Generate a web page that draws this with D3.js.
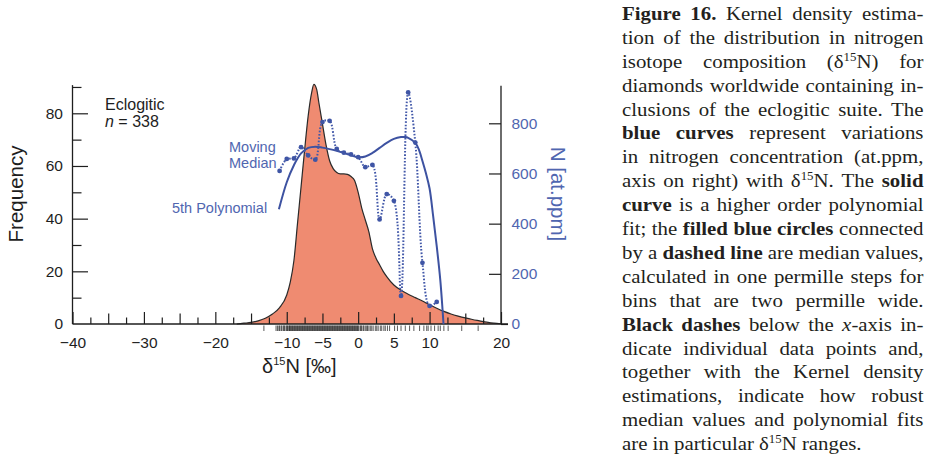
<!DOCTYPE html>
<meta charset="utf-8">
<style>
body { margin: 0; background: #fff; }
svg text { font-family: "Liberation Sans", Arial, sans-serif; }
.caption text { font-family: "Liberation Serif", "Times New Roman", serif; font-size: 19.5px; fill: #231f20; }
</style>
<body>
<script src="https://cdn.jsdelivr.net/npm/d3@7"></script>
<script>
// kernel density of d15N (left axis, frequency)
var densX = [-17, -16, -15, -14, -13, -12, -11, -10, -9.5, -9, -8.5, -8, -7.5, -7, -6.5, -6.2, -5.8, -5.5, -5, -4.5, -4, -3.5, -3, -2.5, -2, -1.5, -1, -0.5, 0, 0.5, 1, 1.5, 2, 2.5, 3, 3.5, 4, 5, 6, 7, 8, 9, 10, 11, 12, 13, 14, 15, 16, 17, 18, 19, 20];
var densY = [0, 0.3, 0.6, 1.2, 2.2, 3.8, 6.2, 11, 16, 24, 38, 52, 66, 79, 88, 91, 89, 84, 76, 68, 62, 59, 57.5, 57, 57, 56.8, 56, 54.5, 50, 44, 39.5, 35, 28.5, 25, 22.5, 20, 18, 14.8, 12.8, 11.3, 10, 8.7, 7.3, 6, 4.8, 3.8, 3, 2.3, 1.7, 1.2, 0.7, 0.3, 0.1];

// moving median of N (right axis, at.ppm)
var medX = [-11, -10, -9, -8, -7, -6, -5, -4, -3, -2, -1, 0, 1, 2, 3, 4, 5, 6, 7, 8, 9, 10, 11];
var medN = [610, 658, 660, 705, 672, 655, 805, 810, 698, 683, 676, 665, 625, 634, 417, 518, 491, 112, 923, 723, 244, 72, 88];

// 5th order polynomial fit
var polyX = [-11.1, -10, -9, -8, -7, -6, -5, -4, -3, -2, -1, 0, 1, 2, 3, 4, 5, 6, 6.6, 7, 8, 8.5, 9, 9.5, 10, 10.5, 11, 11.5, 11.95];
var polyN = [457, 565, 633, 680, 702, 707, 703, 697, 690, 682, 672, 665, 668, 682, 702, 722, 738, 745, 745, 742, 722, 695, 650, 600, 540, 430, 310, 175, 0];

// individual data points (rug below the x axis)
var rugX = [-13.2, -11.5, -11.3, -11.1, -11.0, -10.8, -10.7, -10.5, -10.4, -10.3, -10.1, -10.0, -9.9, -9.8, -9.65, -9.6, -9.5, -9.4, -9.3, -9.2, -9.1, -9.0, -8.9, -8.8, -8.7, -8.6, -8.5, -8.4, -8.3, -8.2, -8.1, -8.0, -7.9, -7.8, -7.7, -7.6, -7.5, -7.4, -7.3, -7.2, -7.1, -7.0, -6.9, -6.8, -6.7, -6.6, -6.5, -6.4, -6.3, -6.2, -6.1, -6.0, -5.9, -5.8, -5.7, -5.6, -5.5, -5.4, -5.3, -5.2, -5.1, -5.0, -4.9, -4.8, -4.7, -4.6, -4.5, -4.4, -4.3, -4.2, -4.1, -4.0, -3.9, -3.8, -3.7, -3.6, -3.5, -3.4, -3.3, -3.2, -3.1, -3.0, -2.9, -2.8, -2.7, -2.6, -2.5, -2.4, -2.3, -2.2, -2.1, -2.0, -1.9, -1.8, -1.7, -1.6, -1.5, -1.4, -1.3, -1.2, -1.1, -1.0, -0.9, -0.8, -0.7, -0.6, -0.5, -0.4, -0.3, -0.2, -0.1, 0.0, 0.1, 0.3, 0.4, 0.5, 0.7, 0.8, 1.0, 1.2, 1.3, 1.5, 1.7, 1.9, 2.1, 2.4, 2.6, 2.8, 3.1, 3.3, 3.6, 3.8, 4.1, 4.4, 5.1, 5.5, 6.0, 6.6, 7.2, 7.8, 8.6, 9.2, 9.6, 9.8, 10.2, 10.7, 11.2, 11.5, 12.0, 12.6, 14.5, 16.8];

var xLabels = [-40, -30, -20, -10, -5, 0, 5, 10, 20];
var yLeftLabels = [0, 20, 40, 60, 80];
var yRightLabels = [0, 200, 400, 600, 800];

// caption: *bold*, _italic_, ^sup~
var caption = [
  "*Figure 16.* Kernel density estima-",
  "tion of the distribution in nitrogen",
  "isotope composition (δ^15~N) for",
  "diamonds worldwide containing in-",
  "clusions of the eclogitic suite. The",
  "*blue curves* represent variations",
  "in nitrogen concentration (at.ppm,",
  "axis on right) with δ^15~N. The *solid*",
  "*curve* is a higher order polynomial",
  "fit; the *filled blue circles* connected",
  "by a *dashed line* are median values,",
  "calculated in one permille steps for",
  "bins that are two permille wide.",
  "*Black dashes* below the _x_-axis in-",
  "dicate individual data points and,",
  "together with the Kernel density",
  "estimations, indicate how robust",
  "median values and polynomial fits",
  "are in particular δ^15~N ranges."
];

var blue = "#3d52a1", blueText = "#5066b0";

var svg = d3.select("body").append("svg")
    .attr("width", 935)
    .attr("height", 457);

var x = d3.scaleLinear().domain([-40, 20]).range([72.5, 501]);
var yL = d3.scaleLinear().domain([0, 80]).range([324, 113.3]);
var yR = d3.scaleLinear().domain([0, 800]).range([324, 123.3]);

var dens = densX.map(function(v, i) { return [v, densY[i]]; });

svg.append("path")
    .datum(dens)
    .attr("fill", "#ef8b71")
    .attr("d", d3.area().x(function(d) { return x(d[0]); })
      .y0(yL(0)).y1(function(d) { return yL(d[1]); })
      .curve(d3.curveMonotoneX));

svg.append("path")
    .datum(dens)
    .attr("fill", "none")
    .attr("stroke", "#2a2a2a")
    .attr("stroke-width", 1.2)
    .attr("d", d3.line().x(function(d) { return x(d[0]); })
      .y(function(d) { return yL(d[1]); })
      .curve(d3.curveMonotoneX));

// rug
svg.append("g").selectAll("line")
    .data(rugX)
  .enter().append("line")
    .attr("x1", function(d) { return x(d); })
    .attr("x2", function(d) { return x(d); })
    .attr("y1", 325.5).attr("y2", 331)
    .attr("stroke", "#1a1a1a")
    .attr("stroke-opacity", 0.85)
    .attr("stroke-width", 0.85);

// bottom axis, ticks pointing up
var xAxis = d3.axisBottom(x)
    .tickValues(d3.range(-40, 20.01, 2.5))
    .tickSizeInner(-12).tickSizeOuter(0).tickPadding(13)
    .tickFormat(function(d) { return xLabels.indexOf(d) >= 0 ? (d < 0 ? "\u2212" + (-d) : d) : ""; });

var gx = svg.append("g")
    .attr("transform", "translate(0,324)")
    .call(xAxis);
gx.selectAll(".tick line").attr("y2", function(d) {
  return d % 10 === 0 ? -12 : (d % 5 === 0 ? -10.5 : -6.5);
});

var gl = svg.append("g")
    .attr("transform", "translate(72.5,0)")
    .call(d3.axisLeft(yL)
      .tickValues(d3.range(10, 91, 10))
      .tickSizeInner(-15.5).tickSizeOuter(0).tickPadding(9.5)
      .tickFormat(function(d) { return yLeftLabels.indexOf(d) >= 0 ? d : ""; }));
gl.selectAll(".tick line").attr("x2", function(d) { return d % 20 === 0 ? 15.5 : 9; });
// 0 label on the left
gl.append("text").attr("x", -9.5).attr("y", yL(0)).attr("dy", "0.32em")
    .attr("text-anchor", "end").text("0");

var gr = svg.append("g")
    .attr("transform", "translate(501,0)")
    .call(d3.axisRight(yR)
      .tickValues(yRightLabels)
      .tickSizeInner(-12).tickSizeOuter(0).tickPadding(10.5));
gr.selectAll(".tick text").attr("fill", blueText);
gr.select(".tick line").attr("x2", 7);

svg.selectAll(".domain").remove();
svg.selectAll(".tick text").style("font-size", "15.5px").style("font-family", "'Liberation Sans', Arial, sans-serif");
gx.selectAll(".tick text").attr("fill", "#1e1e1e");
gl.selectAll("text").attr("fill", "#1e1e1e").style("font-size", "15.5px");
svg.selectAll(".tick line").attr("stroke", "#1e1e1e").attr("stroke-width", 1.2);

// axis lines
svg.append("line").attr("x1", 72.5).attr("x2", 508).attr("y1", 324).attr("y2", 324)
    .attr("stroke", "#1e1e1e").attr("stroke-width", 1.3);
svg.append("line").attr("x1", 72.5).attr("x2", 72.5).attr("y1", 324).attr("y2", yL(90.7))
    .attr("stroke", "#1e1e1e").attr("stroke-width", 1.3);
svg.append("line").attr("x1", 501).attr("x2", 501).attr("y1", 324).attr("y2", yR(950))
    .attr("stroke", "#1e1e1e").attr("stroke-width", 1.3);

// polynomial fit
svg.append("path")
    .datum(polyX.map(function(v, i) { return [v, polyN[i]]; }))
    .attr("fill", "none")
    .attr("stroke", blue)
    .attr("stroke-width", 2)
    .attr("d", d3.line().x(function(d) { return x(d[0]); })
      .y(function(d) { return yR(d[1]); })
      .curve(d3.curveCatmullRom));

// moving median
var med = medX.map(function(v, i) { return [v, medN[i]]; });
svg.append("path")
    .datum(med)
    .attr("fill", "none")
    .attr("stroke", "#4258a9")
    .attr("stroke-width", 2)
    .attr("stroke-dasharray", "1.6,1.7")
    .attr("d", d3.line().x(function(d) { return x(d[0]); })
      .y(function(d) { return yR(d[1]); })
      .curve(d3.curveCatmullRom));

svg.append("g").selectAll("circle")
    .data(med)
  .enter().append("circle")
    .attr("cx", function(d) { return x(d[0]); })
    .attr("cy", function(d) { return yR(d[1]); })
    .attr("r", 2.4)
    .attr("fill", "#3f55a5");

// axis titles
svg.append("text")
    .attr("transform", "translate(23,194) rotate(-90)")
    .attr("text-anchor", "middle")
    .style("font-size", "20.5px").attr("fill", "#1e1e1e")
    .text("Frequency");

svg.append("text")
    .attr("transform", "translate(551,194) rotate(90)")
    .attr("text-anchor", "middle")
    .style("font-size", "20.5px").attr("fill", blueText)
    .text("N [at.ppm]");

var xt = svg.append("text")
    .attr("x", 262).attr("y", 373)
    .style("font-size", "20px").attr("fill", "#1e1e1e");
xt.append("tspan").text("δ");
xt.append("tspan").attr("dy", -8).style("font-size", "11px").text("15");
xt.append("tspan").attr("dy", 8).text("N [‰]");

// annotations
svg.append("text").attr("x", 105).attr("y", 109.5)
    .style("font-size", "16px").attr("fill", "#1e1e1e").text("Eclogitic");
var nt = svg.append("text").attr("x", 105).attr("y", 126.5)
    .style("font-size", "16px").attr("fill", "#1e1e1e");
nt.append("tspan").style("font-style", "italic").text("n");
nt.append("tspan").text(" = 338");

svg.append("text").attr("x", 229).attr("y", 151.5)
    .style("font-size", "14.5px").attr("fill", blueText).text("Moving");
svg.append("text").attr("x", 229).attr("y", 167.5)
    .style("font-size", "14.5px").attr("fill", blueText).text("Median");
svg.append("text").attr("x", 172).attr("y", 212.5)
    .style("font-size", "14.5px").attr("fill", blueText).text("5th Polynomial");

// caption, justified
function parseLine(s) {
  var words = [], cur = [], buf = "", bold = false, ital = false, sup = false;
  function flush() { if (buf) cur.push({t: buf, b: bold, i: ital, s: sup}); buf = ""; }
  for (var k = 0; k < s.length; k++) {
    var c = s[k];
    if (c === "*") { flush(); bold = !bold; }
    else if (c === "_") { flush(); ital = !ital; }
    else if (c === "^") { flush(); sup = true; }
    else if (c === "~") { flush(); sup = false; }
    else if (c === " ") { flush(); if (cur.length) words.push(cur); cur = []; }
    else buf += c;
  }
  flush();
  if (cur.length) words.push(cur);
  return words;
}

var capLeft = 622, capRight = 923.5, capTop = 20, capStep = 23.9, capSx = 1.07;
var capW = (capRight - capLeft) / capSx;
var cap = svg.append("g").attr("class", "caption")
    .attr("transform", "translate(" + capLeft + ",0) scale(" + capSx + ",1)");

caption.forEach(function(line, li) {
  var words = parseLine(line);
  var y = capTop + li * capStep;
  var nodes = words.map(function(w) {
    var t = cap.append("text").attr("y", y);
    var up = false;
    w.forEach(function(seg) {
      var ts = t.append("tspan").text(seg.t);
      if (seg.b) ts.style("font-weight", "bold");
      if (seg.i) ts.style("font-style", "italic");
      if (seg.s && !up) { ts.attr("dy", -7).style("font-size", "12px"); up = true; }
      else if (seg.s) { ts.style("font-size", "12px"); }
      else if (!seg.s && up) { ts.attr("dy", 7); up = false; }
    });
    return t;
  });
  var widths = nodes.map(function(t) { return t.node().getComputedTextLength(); });
  var total = d3.sum(widths);
  var last = li === caption.length - 1;
  var gap = last ? 4.8 : (capW - total) / (nodes.length - 1);
  var cx = 0;
  nodes.forEach(function(t, i) {
    t.attr("x", cx);
    cx += widths[i] + gap;
  });
});
</script>
</body>
